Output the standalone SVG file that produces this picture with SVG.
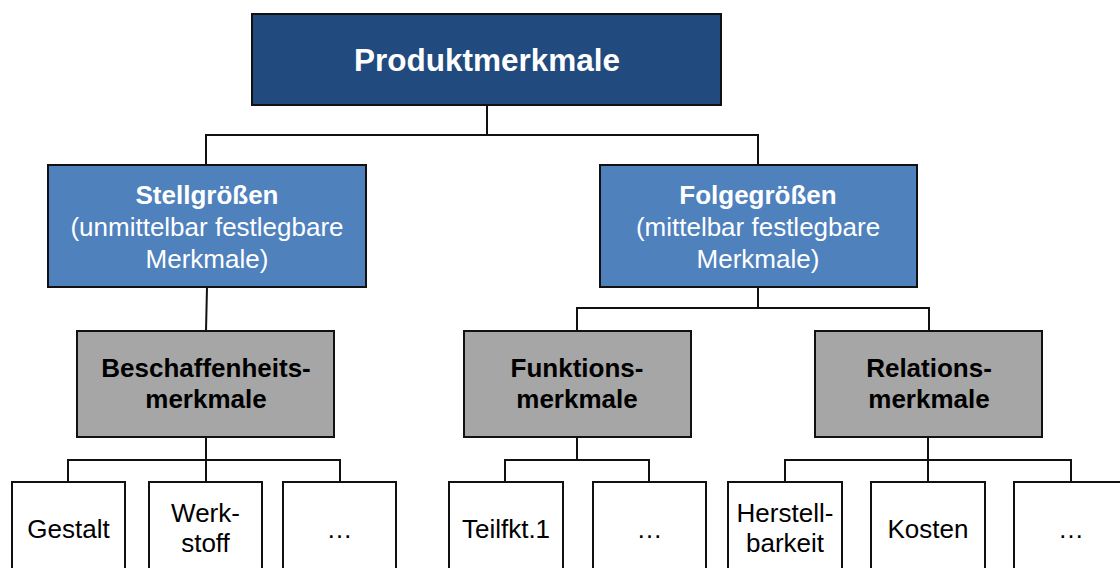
<svg xmlns="http://www.w3.org/2000/svg" width="1120" height="568" viewBox="0 0 1120 568">
<style>
text{font-family:"Liberation Sans",Arial,Helvetica,sans-serif;text-anchor:middle}
.box{stroke:#111;stroke-width:2}
.top{fill:#214a7e}
.mid{fill:#4f81bd}
.grey{fill:#a6a6a6}
.leaf{fill:#fff}
.w{fill:#fff}
.k{fill:#000}
.b{font-weight:bold}
.conn line{stroke:#111;stroke-width:2}
</style>
<rect width="1120" height="568" fill="#fff"/>
<g class="conn">
<line x1="487" y1="105" x2="487" y2="135"/>
<line x1="206" y1="135" x2="758" y2="135"/>
<line x1="206" y1="134" x2="206" y2="165"/>
<line x1="758" y1="134" x2="758" y2="165"/>
<line x1="207" y1="287" x2="206" y2="331"/>
<line x1="758" y1="287" x2="758" y2="308"/>
<line x1="577" y1="308" x2="929" y2="308"/>
<line x1="577" y1="307" x2="577" y2="331"/>
<line x1="929" y1="307" x2="929" y2="331"/>
<line x1="206" y1="437" x2="206" y2="482"/>
<line x1="68" y1="460" x2="340" y2="460"/>
<line x1="68" y1="459" x2="68" y2="482"/>
<line x1="340" y1="459" x2="340" y2="482"/>
<line x1="577" y1="437" x2="577" y2="460"/>
<line x1="505" y1="460" x2="649" y2="460"/>
<line x1="505" y1="459" x2="505" y2="482"/>
<line x1="649" y1="459" x2="649" y2="482"/>
<line x1="928" y1="437" x2="928" y2="482"/>
<line x1="785" y1="460" x2="1071" y2="460"/>
<line x1="785" y1="459" x2="785" y2="482"/>
<line x1="1071" y1="459" x2="1071" y2="482"/>
</g>
<g id="produktmerkmale">
<rect class="box top" x="252" y="14" width="469" height="91"/>
<text class="w b" x="487" y="71" font-size="31.5">Produktmerkmale</text>
</g>
<g id="stellgroessen">
<rect class="box mid" x="48" y="165" width="318" height="122"/>
<text class="w" x="207" font-size="26"><tspan class="b" x="207" y="204">Stellgrößen</tspan><tspan x="207" y="236">(unmittelbar festlegbare</tspan><tspan x="207" y="268">Merkmale)</tspan></text>
</g>
<g id="folgegroessen">
<rect class="box mid" x="600" y="165" width="317" height="122"/>
<text class="w" x="758" font-size="26"><tspan class="b" x="758" y="204">Folgegrößen</tspan><tspan x="758" y="236">(mittelbar festlegbare</tspan><tspan x="758" y="268">Merkmale)</tspan></text>
</g>
<g id="beschaffenheit">
<rect class="box grey" x="77" y="331" width="257" height="106"/>
<text class="k b" font-size="26"><tspan x="206" y="377">Beschaffenheits-</tspan><tspan x="206" y="408">merkmale</tspan></text>
</g>
<g id="funktion">
<rect class="box grey" x="464" y="331" width="227" height="106"/>
<text class="k b" font-size="26"><tspan x="577" y="377">Funktions-</tspan><tspan x="577" y="408">merkmale</tspan></text>
</g>
<g id="relation">
<rect class="box grey" x="815" y="331" width="227" height="106"/>
<text class="k b" font-size="26"><tspan x="929" y="377">Relations-</tspan><tspan x="929" y="408">merkmale</tspan></text>
</g>
<g id="gestalt">
<rect class="box leaf" x="12" y="482" width="113" height="100"/>
<text class="k" x="68.5" y="538" font-size="26">Gestalt</text>
</g>
<g id="werkstoff">
<rect class="box leaf" x="149" y="482" width="113" height="100"/>
<text class="k" font-size="26"><tspan x="205.5" y="522">Werk-</tspan><tspan x="205.5" y="552">stoff</tspan></text>
</g>
<g id="besch-etc">
<rect class="box leaf" x="283" y="482" width="113" height="100"/>
<text class="k" x="339.5" y="538" font-size="26">…</text>
</g>
<g id="teilfkt">
<rect class="box leaf" x="449" y="482" width="114" height="100"/>
<text class="k" x="506" y="538" font-size="26">Teilfkt.1</text>
</g>
<g id="funkt-etc">
<rect class="box leaf" x="593" y="482" width="113" height="100"/>
<text class="k" x="649.5" y="538" font-size="26">…</text>
</g>
<g id="herstellbarkeit">
<rect class="box leaf" x="728" y="482" width="114" height="100"/>
<text class="k" font-size="26"><tspan x="785" y="522">Herstell-</tspan><tspan x="785" y="552">barkeit</tspan></text>
</g>
<g id="kosten">
<rect class="box leaf" x="871" y="482" width="114" height="100"/>
<text class="k" x="928" y="538" font-size="26">Kosten</text>
</g>
<g id="rel-etc">
<rect class="box leaf" x="1014" y="482" width="114" height="100"/>
<text class="k" x="1071" y="538" font-size="26">…</text>
</g>
</svg>
